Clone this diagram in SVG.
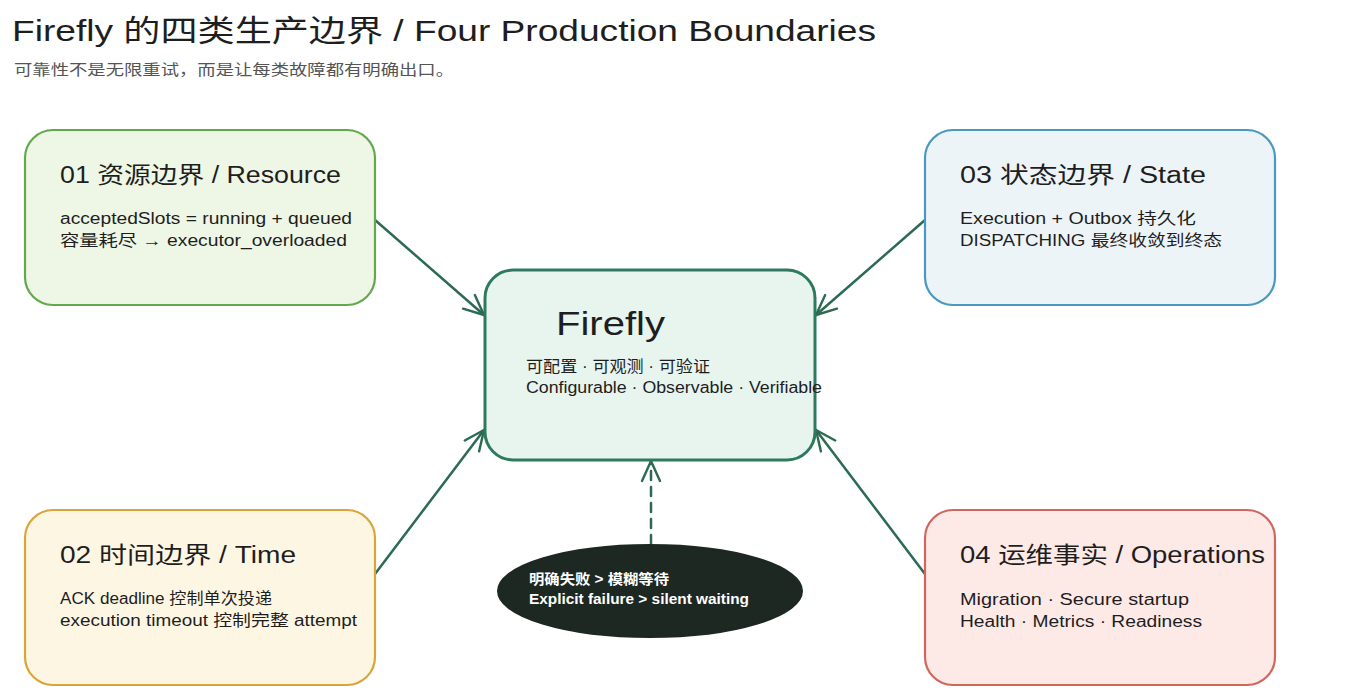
<svg xmlns="http://www.w3.org/2000/svg" width="1345" height="695" viewBox="0 0 1345 695">
<defs>
<marker id="ah" viewBox="0 0 24 24" refX="22" refY="12" markerWidth="24" markerHeight="24" markerUnits="userSpaceOnUse" orient="auto">
<path d="M2,3 L22,12 L2,21" fill="none" stroke="#2d6a54" stroke-width="2.4" stroke-linecap="round" stroke-linejoin="round"/>
</marker>
</defs>
<style>
text{font-family:"Liberation Sans","Noto Sans CJK SC",sans-serif;fill:#1e1e1e}
.title{font-size:30px}
.sub{font-size:15px;fill:#555}
.h{font-size:23px}
.b{font-size:16px}
.w{fill:#ffffff;font-size:14px;font-weight:bold}
.conn{stroke:#2d6a54;stroke-width:2.5;fill:none;stroke-linecap:round}
</style>
<rect width="1345" height="695" fill="#ffffff"/>
<text class="title" x="12" y="41" textLength="864" lengthAdjust="spacingAndGlyphs">Firefly 的四类生产边界 / Four Production Boundaries</text>
<text class="sub" x="14" y="75" textLength="440" lengthAdjust="spacingAndGlyphs">可靠性不是无限重试，而是让每类故障都有明确出口。</text>

<g id="connectors">
<line class="conn" x1="375" y1="220" x2="484" y2="315" marker-end="url(#ah)"/>
<line class="conn" x1="925" y1="220" x2="816" y2="315" marker-end="url(#ah)"/>
<line class="conn" x1="375" y1="574" x2="484" y2="430" marker-end="url(#ah)"/>
<line class="conn" x1="925" y1="574" x2="816" y2="430" marker-end="url(#ah)"/>
<line class="conn" x1="651" y1="544" x2="651" y2="461" stroke-dasharray="9 7" marker-end="url(#ah)"/>
</g>

<g id="node-resource">
<rect x="25" y="130" width="350" height="175" rx="28" fill="#eef6e5" stroke="#64a84e" stroke-width="2.2"/>
<text class="h" x="60" y="183" textLength="281" lengthAdjust="spacingAndGlyphs">01 资源边界 / Resource</text>
<text class="b" x="60" y="224" textLength="292" lengthAdjust="spacingAndGlyphs">acceptedSlots = running + queued</text>
<text class="b" x="60" y="246" textLength="287" lengthAdjust="spacingAndGlyphs">容量耗尽 → executor_overloaded</text>
</g>

<g id="node-state">
<rect x="925" y="130" width="350" height="175" rx="28" fill="#edf4f8" stroke="#4a98bf" stroke-width="2.2"/>
<text class="h" x="960" y="183" textLength="246" lengthAdjust="spacingAndGlyphs">03 状态边界 / State</text>
<text class="b" x="960" y="224" textLength="236" lengthAdjust="spacingAndGlyphs">Execution + Outbox 持久化</text>
<text class="b" x="960" y="246" textLength="262" lengthAdjust="spacingAndGlyphs">DISPATCHING 最终收敛到终态</text>
</g>

<g id="node-time">
<rect x="25" y="510" width="350" height="175" rx="28" fill="#fdf6e3" stroke="#d9a53a" stroke-width="2.2"/>
<text class="h" x="60" y="563" textLength="236" lengthAdjust="spacingAndGlyphs">02 时间边界 / Time</text>
<text class="b" x="60" y="604" textLength="212" lengthAdjust="spacingAndGlyphs">ACK deadline 控制单次投递</text>
<text class="b" x="60" y="626" textLength="297" lengthAdjust="spacingAndGlyphs">execution timeout 控制完整 attempt</text>
</g>

<g id="node-ops">
<rect x="925" y="510" width="350" height="175" rx="28" fill="#fde9e6" stroke="#d0675e" stroke-width="2.2"/>
<text class="h" x="960" y="563" textLength="305" lengthAdjust="spacingAndGlyphs">04 运维事实 / Operations</text>
<text class="b" x="960" y="605" textLength="229" lengthAdjust="spacingAndGlyphs">Migration · Secure startup</text>
<text class="b" x="960" y="627" textLength="242" lengthAdjust="spacingAndGlyphs">Health · Metrics · Readiness</text>
</g>

<g id="node-firefly">
<rect x="485" y="270" width="330" height="190" rx="28" fill="#e8f4ee" stroke="#2e7a5e" stroke-width="3"/>
<text x="556" y="335" style="font-size:34px" textLength="109" lengthAdjust="spacingAndGlyphs">Firefly</text>
<text class="b" x="526" y="372" textLength="184" lengthAdjust="spacingAndGlyphs">可配置 · 可观测 · 可验证</text>
<text class="b" x="526" y="393" textLength="296" lengthAdjust="spacingAndGlyphs">Configurable · Observable · Verifiable</text>
</g>

<g id="node-principle">
<ellipse cx="650" cy="591" rx="152" ry="46" fill="#1d2823" stroke="#1d2823" stroke-width="2"/>
<text class="w" x="529" y="584" textLength="140" lengthAdjust="spacingAndGlyphs">明确失败 &gt; 模糊等待</text>
<text class="w" x="529" y="604" textLength="220" lengthAdjust="spacingAndGlyphs">Explicit failure &gt; silent waiting</text>
</g>
</svg>
